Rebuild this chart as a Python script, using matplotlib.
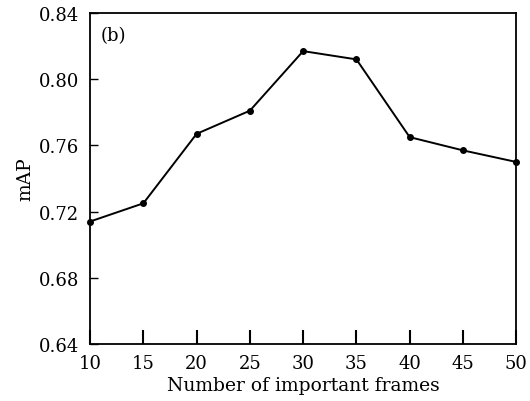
import matplotlib
matplotlib.use("Agg")
import matplotlib.pyplot as plt

frames = [10, 15, 20, 25, 30, 35, 40, 45, 50]
map_vals = [0.714, 0.725, 0.767, 0.781, 0.817, 0.812, 0.765, 0.757, 0.750]
yticks = [0.64, 0.68, 0.72, 0.76, 0.80, 0.84]

plt.rcParams['font.family'] = ['DejaVu Serif']

fig = plt.figure(figsize=(5.3, 4.02), dpi=100)
ax = fig.add_axes([0.17, 0.142, 0.804, 0.823])
ax.plot(frames, map_vals, color='black', lw=1.4, marker='o', ms=4, clip_on=False)

ax.set_xlim(10, 50)
ax.set_ylim(0.64, 0.84)
ax.set_xticks(frames)
ax.set_yticks(yticks)
ax.set_yticklabels(['%.2f' % v for v in yticks])
ax.tick_params(axis='x', direction='in', length=10, width=1.5, labelsize=13, pad=7)
ax.tick_params(axis='y', direction='in', length=6, width=1, labelsize=13, pad=8)
for s in ax.spines.values():
    s.set_linewidth(1.3)

ax.set_xlabel('Number of important frames', fontsize=13.5, labelpad=3)
ax.set_ylabel('mAP', fontsize=13.5, labelpad=3)
ax.text(0.025, 0.96, '(b)', transform=ax.transAxes, fontsize=13, va='top')

fig.savefig('out.png', dpi=100)
